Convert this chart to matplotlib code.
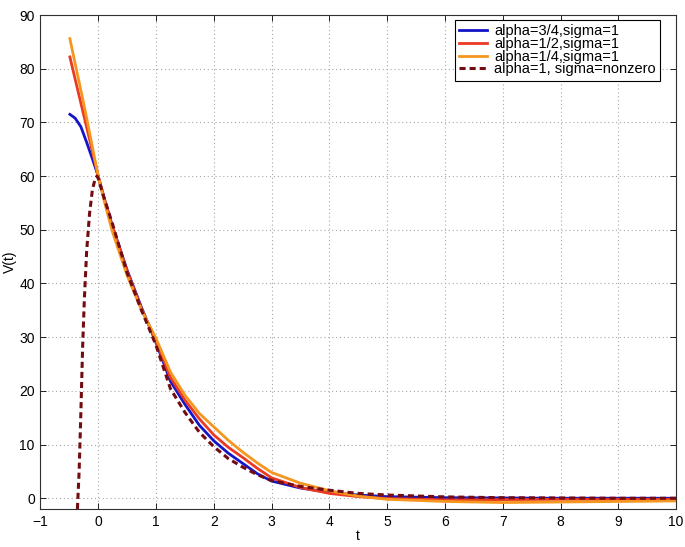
import numpy as np
import matplotlib.pyplot as plt

# --- curves ---
t_blue = [-0.49, -0.4, -0.3, -0.2, -0.1, 0.0, 0.1, 0.25, 0.5, 0.75, 1.0, 1.25, 1.5, 1.75,
          2.0, 2.25, 2.5, 2.75, 3.0, 3.5, 4.0, 4.5, 5.0, 6.0, 7.0, 8.0, 9.0, 10.0]
v_blue = [71.5, 70.8, 69.2, 66.3, 63.2, 60.0, 56.0, 50.5, 42.5, 35.5, 29.0, 21.8, 17.5, 13.6,
          10.7, 8.4, 6.5, 4.6, 3.2, 1.9, 1.1, 0.6, 0.3, 0.1, 0.05, 0.0, 0.0, 0.0]

t_red = t_blue
v_red = [82.2, 78.1, 73.6, 69.1, 64.6, 60.0, 56.0, 50.5, 42.3, 35.3, 29.3, 22.5, 18.3, 14.8,
         11.8, 9.5, 7.6, 5.6, 3.8, 2.0, 0.9, 0.3, -0.05, -0.3, -0.25, -0.2, -0.2, -0.2]

t_orange = t_blue
v_orange = [85.6, 81.0, 76.0, 70.8, 65.4, 60.0, 55.5, 49.5, 41.5, 35.0, 29.8, 23.5, 19.2, 15.8,
            13.3, 10.8, 8.6, 6.6, 4.8, 2.8, 1.4, 0.4, -0.2, -0.6, -0.8, -0.7, -0.6, -0.5]

t_dash = [-0.36, -0.33, -0.3, -0.27, -0.24, -0.2, -0.15, -0.1, -0.05, -0.02, 0.0, 0.1, 0.25,
          0.5, 0.75, 1.0, 1.25, 1.5, 1.75, 2.0, 2.25, 2.5, 2.75, 3.0, 3.5, 4.0, 4.5, 5.0,
          6.0, 7.0, 8.0, 9.0, 10.0]
v_dash = [-2.0, 5.0, 16.0, 28.0, 37.0, 46.0, 53.0, 57.5, 59.6, 60.0, 59.6, 56.0, 51.0,
          42.0, 35.0, 28.5, 20.4, 16.0, 12.3, 9.6, 7.4, 5.8, 4.4, 3.3, 2.2, 1.5, 0.9, 0.6,
          0.25, 0.1, 0.05, 0.0, 0.0]

labels = ["alpha=3/4,sigma=1", "alpha=1/2,sigma=1", "alpha=1/4,sigma=1",
          "alpha=1, sigma=nonzero"]

plt.rcParams["font.family"] = ["Liberation Sans", "DejaVu Sans"]
plt.rcParams["font.size"] = 10

fig = plt.figure(figsize=(6.85, 5.47), dpi=100)
ax = fig.add_axes([0.059, 0.0695, 0.928, 0.903])

ax.plot(t_blue, v_blue, color="#1414c8", lw=2.0, label=labels[0])
ax.plot(t_red, v_red, color="#ec3a22", lw=2.0, label=labels[1])
ax.plot(t_orange, v_orange, color="#f5961e", lw=2.0, label=labels[2])
ax.plot(t_dash, v_dash, color="#720c10", lw=2.2, ls=(0, (2.0, 1.3)), label=labels[3])

ax.set_xlim(-1, 10)
ax.set_ylim(-2, 90)
ax.set_xticks(range(-1, 11))
ax.set_yticks(range(0, 91, 10))
ax.set_xlabel("t", labelpad=0)
ax.set_ylabel("V(t)", labelpad=2)

ax.grid(True, color="#a8a8a8", linestyle=(0, (1, 2.5)), linewidth=0.8)
ax.tick_params(direction="in", top=True, right=True, length=4, width=0.6, pad=4)
for s in ax.spines.values():
    s.set_linewidth(0.8)
    s.set_color("#303030")

leg = ax.legend(loc="upper right", bbox_to_anchor=(0.975, 0.99), fancybox=False,
                edgecolor="black", framealpha=1, borderpad=0.3, labelspacing=-0.09,
                handlelength=1.9, handletextpad=0.48, borderaxespad=0.0, fontsize=10.5)
leg.get_frame().set_linewidth(0.8)

fig.savefig("out.png", dpi=100)
